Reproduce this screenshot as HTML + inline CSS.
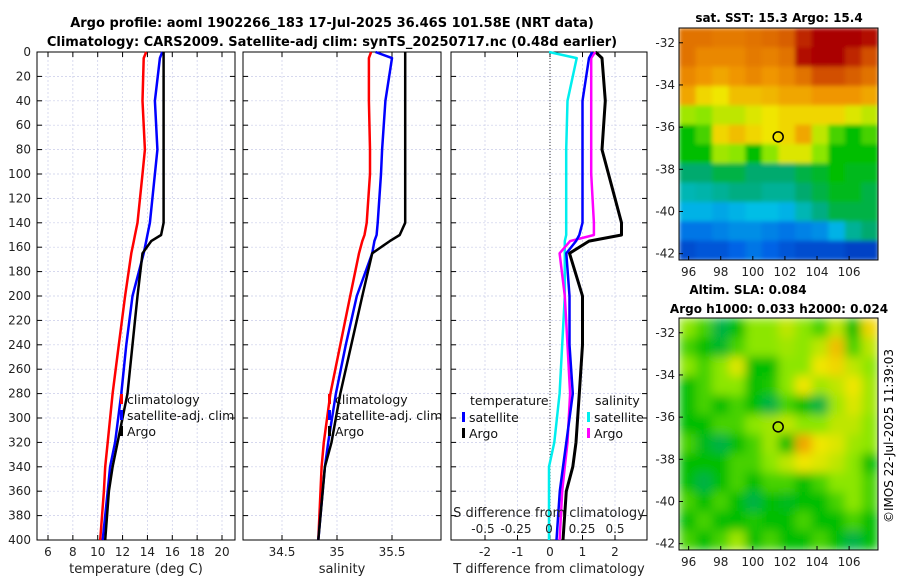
<!DOCTYPE html>
<html><head><meta charset="utf-8"><style>
body{margin:0;background:#fff;width:900px;height:580px;overflow:hidden;font-family:"Liberation Sans","DejaVu Sans",sans-serif}
svg text{font-family:"DejaVu Sans","Liberation Sans",sans-serif}
</style></head><body>
<svg id="s" width="900" height="580">
<defs>
<filter id="b1" x="0" y="0" width="1" height="1"><feGaussianBlur stdDeviation="2.2" edgeMode="duplicate"/></filter>
<filter id="b2" x="0" y="0" width="1" height="1"><feGaussianBlur stdDeviation="5" edgeMode="duplicate"/></filter>
<clipPath id="c1"><rect x="679" y="28" width="199" height="232"/></clipPath>
<clipPath id="c2"><rect x="679" y="318" width="199" height="232"/></clipPath>
</defs>
<text x="332" y="27" font-size="13" font-weight="bold" text-anchor="middle">Argo profile: aoml 1902266_183 17-Jul-2025 36.46S 101.58E (NRT data)</text>
<text x="332" y="46" font-size="13" font-weight="bold" text-anchor="middle">Climatology: CARS2009. Satellite-adj clim: synTS_20250717.nc (0.48d earlier)</text>
<text x="779" y="22" font-size="12" font-weight="bold" text-anchor="middle">sat. SST: 15.3 Argo: 15.4</text>
<text x="748" y="294" font-size="12" font-weight="bold" text-anchor="middle">Altim. SLA: 0.084</text>
<text x="779" y="313" font-size="12" font-weight="bold" text-anchor="middle">Argo h1000: 0.033 h2000: 0.024</text>
<text transform="translate(893,436) rotate(-90)" font-size="12" text-anchor="middle">©IMOS 22-Jul-2025 11:39:03</text>
<g id="m1" clip-path="url(#c1)"><g id="m1b" filter="url(#b1)"></g></g>
<g id="m2" clip-path="url(#c2)"><g id="m2b" filter="url(#b2)"></g></g>
<g id="g"></g>
</svg>
<script>
// depth profiles (m)
const depths=[0,5,40,80,100,140,150,155,165,200,240,280,320,340,360,400];
const tClim=[13.9,13.7,13.6,13.8,13.6,13.2,13.0,12.9,12.7,12.2,11.7,11.2,10.8,10.6,10.5,10.2];
const tSat=[15.2,15.0,14.6,14.8,14.6,14.2,14.0,13.9,13.7,12.8,12.3,11.9,11.4,11.0,10.8,10.4];
const tArgo=[15.3,15.3,15.3,15.3,15.3,15.3,15.1,14.3,13.6,13.2,12.8,12.4,11.6,11.2,10.9,10.6];
const sClim=[35.31,35.29,35.29,35.3,35.3,35.27,35.25,35.23,35.2,35.12,35.03,34.94,34.88,34.86,34.85,34.83];
const sSat=[35.35,35.5,35.44,35.41,35.4,35.37,35.36,35.34,35.32,35.18,35.08,34.99,34.92,34.89,34.87,34.83];
const sArgo=[35.62,35.62,35.62,35.62,35.62,35.62,35.57,35.48,35.32,35.23,35.13,35.03,34.95,34.89,34.87,34.83];
const dtSat=[1.3,1.2,1.0,1.0,1.0,1.0,0.9,0.8,0.5,0.6,0.6,0.7,0.5,0.4,0.3,0.2];
const dtArgo=[1.4,1.6,1.7,1.6,1.8,2.2,2.2,1.2,0.6,1.0,1.0,0.9,0.8,0.7,0.5,0.4];
const dsSat=[0.0,0.21,0.14,0.13,0.13,0.13,0.13,0.12,0.12,0.12,0.1,0.08,0.04,0.0,0.0,0.0];
const dsArgo=[0.35,0.32,0.32,0.32,0.32,0.34,0.34,0.16,0.08,0.12,0.14,0.16,0.14,0.12,0.1,0.08];
const depthTicks=[0,20,40,60,80,100,120,140,160,180,200,220,240,260,280,300,320,340,360,380,400];
const tTicks=[6,8,10,12,14,16,18,20];
const sTicks=[34.5,35,35.5];
const dtTicks=[-2,-1,0,1,2];
const dsTicks=[-0.5,-0.25,0,0.25,0.5];
const dsTickLabels=["-0.5","-0.25","0","0.25","0.5"];
// map grids (colormap 0..1)
const sstGrid=[
[0.85,0.85,0.84,0.84,0.85,0.86,0.88,0.95,1,1,1,0.98],
[0.85,0.82,0.82,0.82,0.84,0.83,0.85,0.98,1,1,0.95,0.9],
[0.82,0.8,0.78,0.8,0.82,0.8,0.82,0.85,0.9,0.9,0.88,0.85],
[0.78,0.72,0.7,0.75,0.75,0.76,0.78,0.78,0.8,0.8,0.8,0.78],
[0.62,0.6,0.65,0.65,0.68,0.7,0.72,0.72,0.72,0.72,0.68,0.65],
[0.5,0.55,0.72,0.75,0.72,0.7,0.72,0.78,0.65,0.55,0.5,0.55],
[0.5,0.5,0.62,0.6,0.5,0.6,0.68,0.68,0.6,0.5,0.5,0.5],
[0.42,0.42,0.45,0.45,0.42,0.42,0.42,0.45,0.47,0.5,0.48,0.48],
[0.35,0.36,0.38,0.4,0.4,0.38,0.38,0.42,0.45,0.48,0.48,0.45],
[0.28,0.28,0.26,0.28,0.3,0.3,0.28,0.35,0.4,0.45,0.45,0.45],
[0.18,0.18,0.2,0.22,0.22,0.2,0.18,0.2,0.22,0.28,0.38,0.42],
[0.1,0.12,0.12,0.15,0.18,0.15,0.12,0.1,0.1,0.1,0.08,0.08]];
const slaGrid=[
[0.6,0.55,0.45,0.5,0.6,0.6,0.65,0.6,0.55,0.65,0.5,0.72],
[0.55,0.5,0.47,0.55,0.6,0.6,0.62,0.6,0.65,0.75,0.55,0.65],
[0.6,0.55,0.6,0.68,0.5,0.5,0.6,0.6,0.7,0.72,0.65,0.6],
[0.5,0.55,0.6,0.6,0.5,0.52,0.6,0.7,0.62,0.65,0.7,0.62],
[0.5,0.55,0.5,0.55,0.5,0.45,0.55,0.5,0.45,0.62,0.68,0.62],
[0.5,0.5,0.55,0.55,0.6,0.62,0.65,0.6,0.6,0.65,0.65,0.6],
[0.55,0.48,0.45,0.5,0.55,0.62,0.5,0.78,0.7,0.68,0.62,0.6],
[0.5,0.5,0.5,0.55,0.55,0.6,0.65,0.7,0.68,0.65,0.6,0.5],
[0.5,0.45,0.5,0.55,0.5,0.55,0.55,0.5,0.55,0.6,0.6,0.55],
[0.55,0.5,0.55,0.5,0.45,0.5,0.48,0.5,0.5,0.55,0.6,0.55],
[0.5,0.55,0.5,0.5,0.52,0.5,0.5,0.55,0.5,0.5,0.55,0.5],
[0.55,0.5,0.55,0.62,0.5,0.55,0.5,0.5,0.55,0.5,0.45,0.5]];
const lonTicks=[96,98,100,102,104,106];
const latTicks=[-32,-34,-36,-38,-40,-42];

const NS="http://www.w3.org/2000/svg";
const G=document.getElementById('g');
function mk(t,a,p){const e=document.createElementNS(NS,t);for(const k in a)e.setAttribute(k,a[k]);(p||G).appendChild(e);return e;}
const Y0=52,Y1=540;
const yD=d=>Y0+(d/400)*(Y1-Y0);
function lin(d0,d1,r0,r1){return v=>r0+(v-d0)/(d1-d0)*(r1-r0);}
const cmS=[0,0.15,0.3,0.42,0.5,0.6,0.7,0.8,0.9,1];
const cmC=[[0,30,160],[0,100,230],[0,190,230],[0,170,110],[0,190,0],[140,230,0],[240,230,0],[240,150,0],[210,80,0],[170,0,0]];
function cmap(v){v=Math.max(0,Math.min(1,v));let i=0;while(i<cmS.length-2&&v>cmS[i+1])i++;const f=(v-cmS[i])/(cmS[i+1]-cmS[i]);
  const c=cmC[i].map((a,k)=>Math.round(a+(cmC[i+1][k]-a)*f));return `rgb(${c[0]},${c[1]},${c[2]})`;}

function panel(name,x0,x1,xs,ticks,labels,xlabel){
  for(const d of depthTicks){const l=mk('line',{x1:x0,x2:x1,y1:yD(d),y2:yD(d),stroke:'#c8cce8','stroke-width':0.7,'stroke-dasharray':'2,2'});
    }
  ticks.forEach((t,i)=>{const x=xs(t);const l=mk('line',{x1:x,x2:x,y1:Y0,y2:Y1,stroke:'#c8cce8','stroke-width':0.7,'stroke-dasharray':'2,2'});
    
    mk('line',{x1:x,x2:x,y1:Y1,y2:Y1-5,stroke:'#000'});mk('line',{x1:x,x2:x,y1:Y0,y2:Y0+5,stroke:'#000'});
    if(labels){const tx=mk('text',{x:x,y:Y1+16,'font-size':12,'text-anchor':'middle',fill:'#222'});tx.textContent=labels[i];
      }});
  for(const d of depthTicks){mk('line',{x1:x0,x2:x0+5,y1:yD(d),y2:yD(d),stroke:'#000'});mk('line',{x1:x1,x2:x1-5,y1:yD(d),y2:yD(d),stroke:'#000'});}
  const r=mk('rect',{x:x0,y:Y0,width:x1-x0,height:Y1-Y0,fill:'none',stroke:'#000','stroke-width':1});
  
  if(xlabel){const t=mk('text',{x:(x0+x1)/2,y:Y1+33,'font-size':13,'text-anchor':'middle',fill:'#222'});t.textContent=xlabel;
    }
}
function line(name,xs,vals,col,w){const p=vals.map((v,i)=>xs(v).toFixed(1)+','+yD(depths[i]).toFixed(1)).join(' ');
  const e=mk('polyline',{points:p,fill:'none',stroke:col,'stroke-width':w||2.5,'stroke-linejoin':'round'});
  }
function legend(name,x,y,col,txt){const r=mk('rect',{x:x,y:y-9,width:3,height:10,fill:col});
  const t=mk('text',{x:x+7,y:y+1,'font-size':12.5,fill:'#111'});t.textContent=txt;}

for(const d of depthTicks){const t=mk('text',{x:31,y:yD(d)+4,'font-size':12,'text-anchor':'end',fill:'#222'});t.textContent=d;
  }

const xT=lin(6,20,48,222);
panel('temperature-panel',37,235,xT,tTicks,tTicks.map(String),'temperature (deg C)');
line('temp-climatology-line',xT,tClim,'#f00');line('temp-satellite-line',xT,tSat,'#00f');line('temp-argo-line',xT,tArgo,'#000');
legend('legend-climatology',120,403,'#f00','climatology');legend('legend-satellite-adj',120,419,'#00f','satellite-adj. clim');legend('legend-argo',120,435,'#000','Argo');

const xS=lin(34.5,35.5,282,392);
panel('salinity-panel',243,441,xS,sTicks,sTicks.map(String),'salinity');
line('sal-climatology-line',xS,sClim,'#f00');line('sal-satellite-line',xS,sSat,'#00f');line('sal-argo-line',xS,sArgo,'#000');
legend('sal-legend-climatology',328,403,'#f00','climatology');legend('sal-legend-satellite-adj',328,419,'#00f','satellite-adj. clim');legend('sal-legend-argo',328,435,'#000','Argo');

const xDT=lin(-2,2,485,615), xDS=lin(-0.5,0.5,483,615);
panel('difference-panel',451,647,xDT,dtTicks,dtTicks.map(String),'T difference from climatology');
const zl=mk('line',{x1:xDT(0),x2:xDT(0),y1:Y0,y2:Y1,stroke:'#333','stroke-dasharray':'1,2'});
line('dt-argo-line',xDT,dtArgo,'#000',3);
line('ds-satellite-line',xDS,dsSat,'#0ee');line('ds-argo-line',xDS,dsArgo,'#f0f');
line('dt-satellite-line',xDT,dtSat,'#00f',2.5);
dsTicks.forEach((t,i)=>{const tx=mk('text',{x:xDS(t),y:533,'font-size':12,'text-anchor':'middle',fill:'#222'});tx.textContent=dsTickLabels[i];
  });
{const t=mk('text',{x:549,y:517,'font-size':13,'text-anchor':'middle',fill:'#222'});t.textContent='S difference from climatology';}
{const t=mk('text',{x:470,y:405,'font-size':12.5,fill:'#111'});t.textContent='temperature';
 const u=mk('text',{x:595,y:405,'font-size':12.5,fill:'#111'});u.textContent='salinity';}
legend('legend-t-satellite',462,421,'#00f','satellite');legend('legend-t-argo',462,437,'#000','Argo');
legend('legend-s-satellite',587,421,'#0ee','satellite');legend('legend-s-argo',587,437,'#f0f','Argo');

function map(name,grid,holder,x0,y0,w,h){
  const H=document.getElementById(holder);
  const rows=grid.length,cols=grid[0].length,cw=w/cols,ch=h/rows;
  grid.forEach((row,i)=>row.forEach((v,j)=>{const c=mk('rect',{x:x0+j*cw,y:y0+i*ch,width:cw+0.6,height:ch+0.6,fill:cmap(v)},H);
    }));
  const lx=lin(95.4,107.8,x0,x0+w), ly=lin(-31.3,-42.3,y0,y0+h);
  const f=mk('rect',{x:x0,y:y0,width:w,height:h,fill:'none',stroke:'#000'});
  lonTicks.forEach(t=>{mk('line',{x1:lx(t),x2:lx(t),y1:y0+h,y2:y0+h-4,stroke:'#000'});const tx=mk('text',{x:lx(t),y:y0+h+16,'font-size':12,'text-anchor':'middle',fill:'#222'});tx.textContent=t;});
  latTicks.forEach(t=>{mk('line',{x1:x0,x2:x0+4,y1:ly(t),y2:ly(t),stroke:'#000'});const tx=mk('text',{x:x0-4,y:ly(t)+4,'font-size':12,'text-anchor':'end',fill:'#222'});tx.textContent=t;});
  const m=mk('circle',{cx:lx(101.58),cy:ly(-36.46),r:5,fill:'none',stroke:'#000','stroke-width':1.5});
}
map('sst-map',sstGrid,'m1b',679,28,199,232);
map('sla-map',slaGrid,'m2b',679,318,199,232);
</script>
</body></html>
